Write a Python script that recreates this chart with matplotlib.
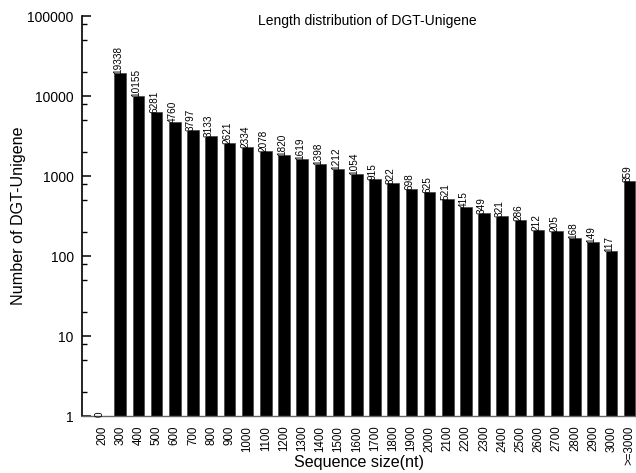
import matplotlib
matplotlib.use("Agg")
import matplotlib.pyplot as plt
from matplotlib.ticker import FixedLocator, NullFormatter, FixedFormatter

plt.rcParams["font.family"] = ["Liberation Sans", "DejaVu Sans"]

# data
size_labels = ["200", "300", "400", "500", "600", "700", "800", "900", "1000",
               "1100", "1200", "1300", "1400", "1500", "1600", "1700", "1800",
               "1900", "2000", "2100", "2200", "2300", "2400", "2500", "2600",
               "2700", "2800", "2900", "3000", ">=3000"]
counts = [0, 19338, 10155, 6281, 4760, 3797, 3133, 2621, 2334, 2078, 1820,
          1619, 1398, 1212, 1054, 915, 822, 698, 625, 521, 415, 349, 321,
          286, 212, 205, 168, 149, 117, 859]
major_ticks = [1, 10, 100, 1000, 10000, 100000]
major_labels = ["1", "10", "100", "1000", "10000", "100000"]

fig = plt.figure(figsize=(6.36, 4.73), dpi=100)
ax = fig.add_axes([0.129, 0.1205, 0.871, 0.8455])

x = list(range(len(counts)))
ax.bar(x, counts, width=0.64, color="black", edgecolor="#444444",
       linewidth=0.5, log=True)

# value labels above the bars
for xi, c in zip(x, counts):
    ax.text(xi - 0.12, max(c, 1) * 0.97, str(c), rotation=90, ha="center",
            va="bottom", fontsize=7.2)

ax.set_yscale("log")
ax.set_ylim(1, 100000)
ax.set_xlim(-1.1, len(counts) - 0.65)

ax.yaxis.set_major_locator(FixedLocator(major_ticks))
ax.yaxis.set_major_formatter(FixedFormatter(major_labels))
minors = []
for d in major_ticks[:-1]:
    minors += [2 * d, 5 * d, 8 * d]
ax.yaxis.set_minor_locator(FixedLocator(minors))
ax.yaxis.set_minor_formatter(NullFormatter())
ax.tick_params(axis="y", which="major", direction="in", length=6.5,
               width=1.1, labelsize=10, pad=6)
ax.tick_params(axis="y", which="minor", direction="in", length=3.6, width=1.0)

ax.set_xticks(x)
ax.set_xticklabels(size_labels, rotation=90, fontsize=8.3)
ax.tick_params(axis="x", length=0, pad=7)

for s in ["top", "right"]:
    ax.spines[s].set_visible(False)
ax.spines["left"].set_linewidth(1.2)
ax.spines["bottom"].set_color("#666666")
ax.spines["bottom"].set_linewidth(1.0)

ax.text(0.515, 1.004, "Length distribution of DGT-Unigene", transform=ax.transAxes,
        ha="center", va="top", fontsize=10)
ax.set_ylabel("Number of DGT-Unigene", fontsize=11.6)
ax.yaxis.set_label_coords(-0.102, 0.5)
ax.set_xlabel("Sequence size(nt)", fontsize=11.6)
ax.xaxis.set_label_coords(0.5, -0.098)

fig.savefig("out.png", dpi=100)
